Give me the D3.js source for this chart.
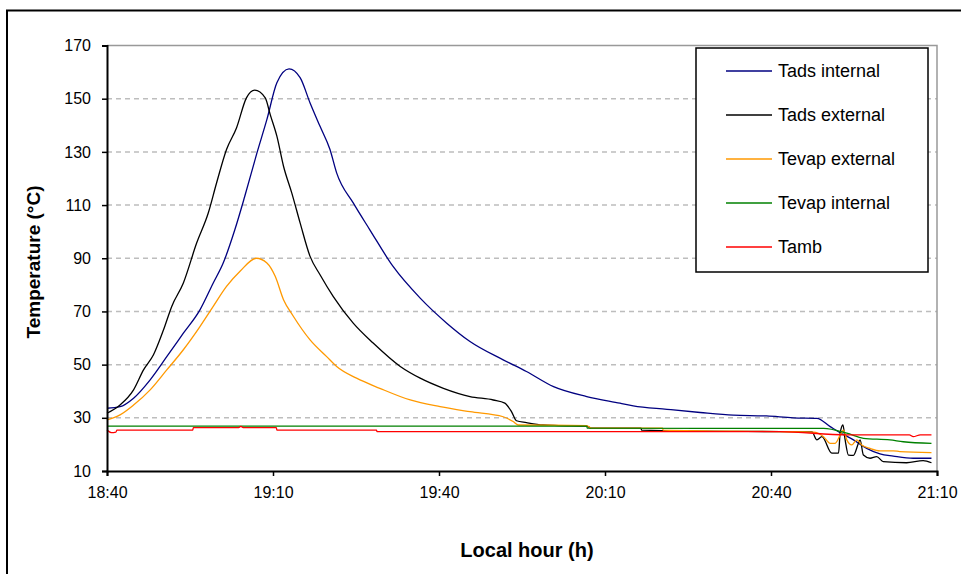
<!DOCTYPE html>
<html>
<head>
<meta charset="utf-8">
<script src="https://cdn.jsdelivr.net/npm/d3@7"></script>
<style>
  body { margin: 0; background: #fff; }
  text { font-family: "Liberation Sans", Arial, sans-serif; }
</style>
</head>
<body>
<div class="box"></div>
<script>
// minutes apres 18:40, temperature en degres C
const tadsInternal = [
  [0, 33.6], [2.35, 34.2], [4.8, 37.4], [7.8, 44.3], [10.8, 53], [13.8, 61.8], [16.8, 70.6],
  [19.2, 80.7], [21, 88.2], [23.1, 100.7], [24.9, 113.3], [27.1, 129.6], [28.9, 142.2],
  [30.7, 156], [32.9, 161.2], [34.9, 157.9], [36.7, 148.4], [38.5, 139.6], [40.3, 130.9],
  [41.5, 122.1], [44.5, 110.8], [47.5, 100.7], [51.7, 86.9], [56.6, 75], [61.4, 65.6],
  [65.6, 58.7], [71.6, 51.8], [75.8, 47.4], [80.7, 41.7], [86.7, 38], [92.7, 35.5],
  [95.1, 34.5], [101.2, 33.2], [107.2, 32], [113.2, 31], [119.2, 30.7], [124, 30],
  [128.3, 29.8], [130.7, 26.7], [132.5, 24.4], [134.9, 21.7], [137.3, 18.5], [139.7, 16.4],
  [142.1, 15.6], [145.7, 14.8], [149, 14.8]
];
const tadsExternal = [
  [0, 31.7], [2.35, 34.8], [4.8, 40.5], [6.6, 48], [8.4, 53.7], [10.2, 63], [11.7, 71.9],
  [13.8, 80.7], [16.2, 95.7], [18.3, 107], [19.8, 118.3], [21.6, 130.9], [23.4, 139],
  [25.2, 150.3], [26.7, 153.2], [28.6, 150.3], [29.5, 144], [30.7, 135.9], [31.9, 124.6],
  [33.4, 114.5], [34.9, 103.3], [36.7, 90.7], [38.5, 83.8], [40.9, 75.6], [44.5, 65.6],
  [48.1, 58.1], [53, 49.3], [56.6, 44.9], [60.8, 41.1], [65.6, 38], [69.8, 36.7],
  [71.9, 35.5], [73.1, 32.3], [74, 28.9], [75.8, 28.2], [78.8, 27.3], [81.6, 27.1],
  [86.7, 26.9], [87.5, 26.1], [96.5, 26.1], [96.6, 25.4], [121.6, 24.8], [127.4, 24.7],
  [128.3, 21.7], [129.2, 22.9], [131, 16.7], [132.2, 16.7], [132.5, 24.2], [133, 27.3],
  [133.4, 21.7], [134, 16], [134.9, 15.9], [135.8, 20.4], [136.1, 21.7], [136.7, 16],
  [137.9, 14.8], [139.1, 15.4], [140.3, 13.5], [144.5, 13.1], [147.5, 13.9], [149, 13.1]
];
const tevapExternal = [
  [0, 29.2], [2.35, 31.1], [4.8, 34.8], [7.8, 40.5], [10.8, 48], [13.8, 55.6], [16.8, 64.3],
  [19.2, 71.9], [21.6, 79.4], [24, 85], [27, 90], [28.9, 88.2], [30.4, 83.2], [31.9, 74.4],
  [33.7, 68.1], [36.7, 59.3], [39.7, 53], [41.5, 49.3], [45.1, 44.9], [49.3, 41.1],
  [54.8, 36.7], [60.2, 34.2], [65.6, 32.3], [71.6, 30.4], [73.4, 28.6], [74.3, 27.3],
  [86.7, 27.1], [87.5, 26.1], [100.4, 26.1], [100.5, 25.4], [121.6, 24.8], [127.7, 24.6],
  [129.5, 22.9], [130.7, 20.4], [131.6, 20.4], [132.5, 23.5], [133.1, 25.4], [133.7, 21.7],
  [134.6, 19.8], [135.5, 21.7], [136.4, 19.8], [137.9, 18.5], [139.7, 17.6], [142.1, 17.6],
  [143.3, 17.3], [149, 16.9]
];
const tevapInternal = [
  [0, 26.9], [86.7, 26.9], [86.8, 26.1], [129.5, 26], [133.7, 24.2], [136.7, 22.3],
  [141.5, 21.7], [143.9, 21], [149, 20.4]
];
const tamb = [
  [0, 25.4], [0.8, 24.4], [1.6, 24.6], [1.8, 25.4], [15.5, 25.4], [15.6, 26.3], [23.8, 26.3],
  [24.2, 26.8], [24.6, 26.3], [30.6, 26.3], [30.7, 25.4], [48.7, 25.4], [48.8, 24.8],
  [121.6, 24.8], [133.7, 23.6], [145, 23.6], [145.7, 22.9], [147, 23.6], [149, 23.6]
];

const seriesNames = ['Tads internal', 'Tads external', 'Tevap external', 'Tevap internal', 'Tamb'];
const seriesData = [tadsInternal, tadsExternal, tevapExternal, tevapInternal, tamb];
const seriesColors = ['#000080', '#000000', '#FF9900', '#008000', '#FF0000'];

const xTicks = [0, 30, 60, 90, 120, 150];
const xTickLabels = ['18:40', '19:10', '19:40', '20:10', '20:40', '21:10'];
const yTicks = [10, 30, 50, 70, 90, 110, 130, 150, 170];

const dims = {width: 961, height: 574, left: 107, right: 937, top: 45.5, bottom: 471};

const svg = d3.select('.box')
              .append('svg')
              .attr('width', dims.width)
              .attr('height', dims.height);

// cadre exterieur
svg.append('rect')
   .attr('x', 7)
   .attr('y', 10.5)
   .attr('width', 1000)
   .attr('height', 700)
   .attr('fill', '#fff')
   .attr('stroke', '#000')
   .attr('stroke-width', 2);

const x = d3.scaleLinear()
            .domain([0, 150])
            .range([dims.left, dims.right]);

const y = d3.scaleLinear()
            .domain([10, 170])
            .range([dims.bottom, dims.top]);

// grille
svg.append('g')
   .selectAll('line')
   .data(yTicks.filter(d => d > 10 && d < 170))
   .enter()
   .append('line')
   .attr('x1', dims.left)
   .attr('x2', dims.right)
   .attr('y1', d => y(d))
   .attr('y2', d => y(d))
   .attr('stroke', '#bdbdbd')
   .attr('stroke-width', 1.5)
   .attr('stroke-dasharray', '5,4');

// bord du graphique
svg.append('path')
   .attr('d', `M${dims.left},${dims.top}H${dims.right}V${dims.bottom}`)
   .attr('fill', 'none')
   .attr('stroke', '#999')
   .attr('stroke-width', 1.5);

// courbes
const line = d3.line()
               .curve(d3.curveMonotoneX)
               .x(d => x(d[0]))
               .y(d => y(d[1]));

svg.append('g')
   .selectAll('path')
   .data(seriesData)
   .enter()
   .append('path')
   .attr('d', line)
   .attr('fill', 'none')
   .attr('stroke', (d, i) => seriesColors[i])
   .attr('stroke-width', 1.3);

// axes
const xAxis = d3.axisBottom(x)
                .tickValues(xTicks)
                .tickFormat((d, i) => xTickLabels[i])
                .tickSizeOuter(0)
                .tickSize(5)
                .tickPadding(11);

const yAxis = d3.axisLeft(y)
                .tickValues(yTicks)
                .tickSizeOuter(0)
                .tickSize(5)
                .tickPadding(11);

const gx = svg.append('g')
              .attr('transform', `translate(0, ${dims.bottom})`)
              .call(xAxis);

const gy = svg.append('g')
              .attr('transform', `translate(${dims.left}, 0)`)
              .call(yAxis);

[gx, gy].forEach(g => {
    g.select('.domain').attr('stroke', '#000').attr('stroke-width', 2);
    g.selectAll('.tick line').attr('stroke', '#000').attr('stroke-width', 1.5);
    g.selectAll('.tick text')
     .attr('fill', '#000')
     .style('font-size', '16px')
     .style('font-family', '"Liberation Sans", Arial, sans-serif');
});

// titres des axes
svg.append('text')
   .attr('x', 527)
   .attr('y', 557)
   .attr('text-anchor', 'middle')
   .style('font-size', '20px')
   .style('font-weight', 'bold')
   .text('Local hour (h)');

svg.append('text')
   .attr('transform', 'translate(40, 262) rotate(-90)')
   .attr('text-anchor', 'middle')
   .style('font-size', '19px')
   .style('font-weight', 'bold')
   .text('Temperature (°C)');

// legende
const legend = svg.append('g');

legend.append('rect')
      .attr('x', 696)
      .attr('y', 48)
      .attr('width', 232)
      .attr('height', 224)
      .attr('fill', '#fff')
      .attr('stroke', '#000')
      .attr('stroke-width', 1.5);

const items = legend.selectAll('g.item')
                    .data(seriesNames)
                    .enter()
                    .append('g')
                    .attr('class', 'item')
                    .attr('transform', (d, i) => `translate(0, ${71 + i * 44})`);

items.append('line')
     .attr('x1', 726)
     .attr('x2', 772)
     .attr('stroke', (d, i) => seriesColors[i])
     .attr('stroke-width', 1.5);

items.append('text')
     .attr('x', 778)
     .attr('dy', '0.35em')
     .style('font-size', '18px')
     .text(d => d);
</script>
</body>
</html>
